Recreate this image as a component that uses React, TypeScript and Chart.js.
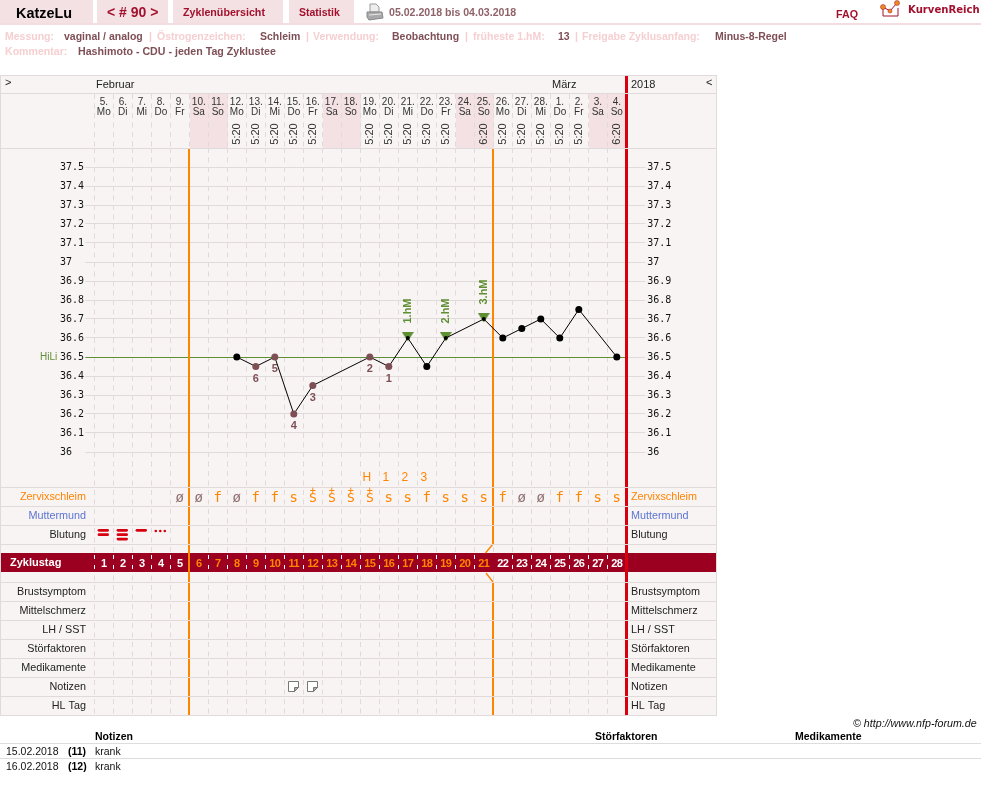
import React, { useEffect, useRef } from "react";
import { Chart, registerables } from "chart.js";

Chart.register(...registerables);

const dayNumbers = [5, 6, 7, 8, 9, 10, 11, 12, 13, 14, 15, 16, 17, 18, 19, 20, 21, 22, 23, 24, 25, 26, 27, 28, 1, 2, 3, 4];
const weekdays = ["Mo", "Di", "Mi", "Do", "Fr", "Sa", "So", "Mo", "Di", "Mi", "Do", "Fr", "Sa", "So", "Mo", "Di", "Mi", "Do", "Fr", "Sa", "So", "Mo", "Di", "Mi", "Do", "Fr", "Sa", "So"];
const times = [null, null, null, null, null, null, null, "5:20", "5:20", "5:20", "5:20", "5:20", null, null, "5:20", "5:20", "5:20", "5:20", "5:20", null, "6:20", "5:20", "5:20", "5:20", "5:20", "5:20", null, "6:20"];
const temperatures = [null, null, null, null, null, null, null, 36.5, 36.45, 36.5, 36.2, 36.35, null, null, 36.5, 36.45, 36.6, 36.45, 36.6, null, 36.7, 36.6, 36.65, 36.7, 36.6, 36.75, null, 36.5];
const excludedDays = [8, 9, 10, 11, 14, 15];
const excludedLabels = ["6", "5", "4", "3", "2", "1"];
const peakDays = [16, 18, 20];
const peakLabels = ["1.hM", "2.hM", "3.hM"];
const yTicks = [37.5, 37.4, 37.3, 37.2, 37.1, 37, 36.9, 36.8, 36.7, 36.6, 36.5, 36.4, 36.3, 36.2, 36.1, 36];
const coverLine = 36.5;
const mucus = ["", "", "", "", "ø", "ø", "f", "ø", "f", "f", "s", "S+", "S+", "S+", "S+", "s", "s", "f", "s", "s", "s", "f", "ø", "ø", "f", "f", "s", "s"];
const mucusPeak = ["H", "1", "2", "3"];
const mucusPeakDays = [14, 15, 16, 17];
const bleeding = [2, 3, 1, -1];
const cycleDays = [1, 2, 3, 4, 5, 6, 7, 8, 9, 10, 11, 12, 13, 14, 15, 16, 17, 18, 19, 20, 21, 22, 23, 24, 25, 26, 27, 28];
const fertileDays = [5, 20];
const noteDays = [10, 11];
const rowsTop = ["Zervixschleim", "Muttermund", "Blutung"];
const rowsBottom = ["Brustsymptom", "Mittelschmerz", "LH / SST", "Störfaktoren", "Medikamente", "Notizen", "HL Tag"];
const noteRows = [["15.02.2018", "(11)", "krank"], ["16.02.2018", "(12)", "krank"]];

const SANS = '"Liberation Sans", Arial, sans-serif';
const MONO = '"DejaVu Sans Mono", monospace';
const GRID = "#e0dbda";
const BG = "#f9f4f4";
const PINK = "#f3e1e3";
const ORANGE = "#ff8400";
const RED = "#d8000f";
const MAROON = "#9b0020";
const BROWN = "#7f4f56";
const GREEN = "#5f8f33";

function tableFurniture(chart: any) {
  const { ctx } = chart;
  ctx.save();
  ctx.fillStyle = BG;
  ctx.fillRect(1, 75, 715, 640);
  const x = chart.scales.x;
  ctx.fillStyle = PINK;
  weekdays.forEach((w, i) => {
    if (w === "Sa" || w === "So") {
      const a = Math.round(x.getPixelForValue(i - 0.5)) + 1;
      const b = Math.round(x.getPixelForValue(i + 0.5));
      ctx.fillRect(a, 94, b - a + 1, 54);
    }
  });
  ctx.restore();
}

function tableOverlay(chart: any) {
  const { ctx } = chart;
  const x = chart.scales.x;
  const text = (s: string, px: number, py: number, font: string, color: string, align: CanvasTextAlign = "center") => {
    ctx.font = font;
    ctx.fillStyle = color;
    ctx.textAlign = align;
    ctx.textBaseline = "middle";
    ctx.fillText(s, px, py);
  };
  ctx.save();
  // header dashes
  ctx.strokeStyle = GRID;
  ctx.lineWidth = 1;
  ctx.setLineDash([5, 4.5]);
  dayNumbers.forEach((_, i) => {
    const px = Math.floor(x.getPixelForValue(i - 0.5)) + 0.5;
    ctx.beginPath();
    ctx.moveTo(px, 94);
    ctx.lineTo(px, 148);
    ctx.stroke();
  });
  ctx.setLineDash([]);

  // cycle day band
  ctx.fillStyle = MAROON;
  ctx.fillRect(1, 553, 715, 19);
  ctx.fillStyle = "#fff";
  dayNumbers.forEach((_, i) => {
    const px = Math.floor(x.getPixelForValue(i - 0.5));
    if (i === fertileDays[0] || i === fertileDays[1] + 1) return;
    ctx.fillRect(px, 555, 1, 4);
    ctx.fillRect(px, 565, 1, 4);
  });

  // fertile window lines and end of cycle line
  const o1 = Math.round(x.getPixelForValue(fertileDays[0] - 0.5));
  const o2 = Math.round(x.getPixelForValue(fertileDays[1] + 0.5));
  ctx.fillStyle = ORANGE;
  ctx.fillRect(o1 - 1, 148, 2, 567);
  ctx.fillRect(o2 - 1, 148, 2, 396);
  ctx.fillRect(o2 - 1, 582, 2, 133);
  ctx.strokeStyle = ORANGE;
  ctx.lineWidth = 1.4;
  ctx.beginPath();
  ctx.moveTo(o2, 544);
  ctx.lineTo(o2 - 7.5, 553);
  ctx.moveTo(o2 - 7, 573);
  ctx.lineTo(o2, 582);
  ctx.stroke();
  const rx = Math.round(x.getPixelForValue(dayNumbers.length - 0.5));
  ctx.fillStyle = RED;
  ctx.fillRect(rx - 1, 75, 3, 640);

  // table borders and rows
  ctx.fillStyle = GRID;
  [75, 93, 148, 487, 506, 525, 544, 582, 601, 620, 639, 658, 677, 696, 715].forEach((y) => ctx.fillRect(0, y, 717, 1));
  ctx.fillRect(0, 75, 1, 641);
  ctx.fillRect(716, 75, 1, 641);

  // header row text
  text(">", 5, 83, `11px ${SANS}`, "#222", "left");
  text("Februar", 96, 85, `11px ${SANS}`, "#222", "left");
  text("März", 552, 85, `11px ${SANS}`, "#222", "left");
  text("2018", 631, 85, `11px ${SANS}`, "#222", "left");
  text("<", 706, 83, `11px ${SANS}`, "#222", "left");

  // measuring times
  times.forEach((t, i) => {
    if (!t) return;
    ctx.save();
    ctx.translate(x.getPixelForValue(i), 134);
    ctx.rotate(-Math.PI / 2);
    text(t, 0, 0, `11px ${SANS}`, "#333");
    ctx.restore();
  });

  // coverline caption
  const y = chart.scales.y;
  text("HiLi", 40, y.getPixelForValue(coverLine), `10px ${SANS}`, GREEN, "left");

  // excluded value numbers
  excludedDays.forEach((d, i) => {
    text(excludedLabels[i], x.getPixelForValue(d), y.getPixelForValue(temperatures[d] as number) + 12, `bold 11px ${SANS}`, BROWN);
  });
  // peak labels
  peakDays.forEach((d, i) => {
    ctx.save();
    ctx.translate(x.getPixelForValue(d), y.getPixelForValue(temperatures[d] as number) - 27);
    ctx.rotate(-Math.PI / 2);
    text(peakLabels[i], 0, 0, `bold 11px ${SANS}`, GREEN);
    ctx.restore();
  });

  // mucus row
  mucusPeak.forEach((m, i) => text(m, x.getPixelForValue(mucusPeakDays[i]) - 3, 478, `12px ${SANS}`, ORANGE));
  mucus.forEach((m, i) => {
    if (!m) return;
    const px = x.getPixelForValue(i);
    if (m === "S+") {
      text("S", px, 499, `13px ${MONO}`, ORANGE);
      text("+", px, 491, `10px ${MONO}`, ORANGE);
    } else if (m === "ø") {
      text(m, px, 498.5, `14px ${MONO}`, "#8d6f70");
    } else {
      text(m, px, 498.5, `14px ${MONO}`, ORANGE);
    }
  });

  // bleeding row
  ctx.strokeStyle = RED;
  ctx.fillStyle = RED;
  ctx.lineCap = "round";
  ctx.lineWidth = 2.8;
  bleeding.forEach((b, i) => {
    const px = x.getPixelForValue(i) - 0.5;
    if (b < 0) {
      [-4.5, 0, 4.5].forEach((d) => {
        ctx.beginPath();
        ctx.arc(px + d, 531, 1.3, 0, Math.PI * 2);
        ctx.fill();
      });
      return;
    }
    for (let k = 0; k < b; k++) {
      const by = 530.3 + k * 4.4;
      ctx.beginPath();
      ctx.moveTo(px - 4.3, by);
      ctx.lineTo(px + 4.3, by);
      ctx.stroke();
    }
  });
  ctx.lineCap = "butt";

  // row captions
  const leftColor = (r: string) => (r === "Zervixschleim" ? ORANGE : r === "Muttermund" ? "#5b74d0" : "#222");
  rowsTop.forEach((r, i) => {
    const py = 497 + i * 19;
    text(r, 86, py, `10.8px ${SANS}`, leftColor(r), "right");
    text(r, 631, py, `10.8px ${SANS}`, leftColor(r), "left");
  });
  rowsBottom.forEach((r, i) => {
    const py = 592 + i * 19;
    text(r, 86, py, `10.8px ${SANS}`, "#222", "right");
    text(r, 631, py, `10.8px ${SANS}`, "#222", "left");
  });
  text("Zyklustag", 10, 563, `bold 11px ${SANS}`, "#fff", "left");
  (ctx as any).letterSpacing = "-0.5px";
  cycleDays.forEach((d, i) => {
    const isFertile = i >= fertileDays[0] && i <= fertileDays[1];
    text(String(d), x.getPixelForValue(i), 563.5, `bold 11px ${SANS}`, isFertile ? ORANGE : "#fff");
  });
  (ctx as any).letterSpacing = "0px";

  // note icons
  noteDays.forEach((d) => {
    const px = Math.round(x.getPixelForValue(d)) - 6;
    ctx.strokeStyle = "#777";
    ctx.lineWidth = 1;
    ctx.fillStyle = "#fff";
    ctx.beginPath();
    ctx.moveTo(px + 0.5, 681.5);
    ctx.lineTo(px + 10.5, 681.5);
    ctx.lineTo(px + 10.5, 687.5);
    ctx.lineTo(px + 6.5, 691.5);
    ctx.lineTo(px + 0.5, 691.5);
    ctx.closePath();
    ctx.fill();
    ctx.stroke();
    ctx.fillStyle = "#aaa";
    ctx.beginPath();
    ctx.moveTo(px + 6.5, 691.5);
    ctx.lineTo(px + 6.5, 687.5);
    ctx.lineTo(px + 10.5, 687.5);
    ctx.closePath();
    ctx.fill();
    ctx.stroke();
  });
  ctx.restore();
}

function makeTriangle(): HTMLCanvasElement {
  const c = document.createElement("canvas");
  c.width = 12;
  c.height = 12;
  const g = c.getContext("2d")!;
  g.fillStyle = GREEN;
  g.beginPath();
  g.moveTo(0, 0);
  g.lineTo(12, 0);
  g.lineTo(6, 9.5);
  g.closePath();
  g.fill();
  return c;
}

function Txt(p: { x: number; y: number; s: string; size?: number; color?: string; bold?: boolean; italic?: boolean; family?: string }) {
  return (
    <span
      style={{
        position: "absolute",
        left: p.x,
        top: p.y - 8,
        lineHeight: "16px",
        whiteSpace: "nowrap",
        fontFamily: p.family || SANS,
        fontSize: p.size || 11,
        fontWeight: p.bold === false ? 400 : 700,
        fontStyle: p.italic ? "italic" : "normal",
        color: p.color || "#000",
      }}
    >
      {p.s}
    </span>
  );
}

const LBL = "#f6cfd1";
const VAL = "#7f4f56";
const DARKRED = "#a3102e";
const infoLine: [number, string, string][] = [
  [5, "Messung:", LBL], [64, "vaginal / analog", VAL], [149, "|", LBL], [157, "Östrogenzeichen:", LBL], [260, "Schleim", VAL], [306, "|", LBL],
  [313, "Verwendung:", LBL], [392, "Beobachtung", VAL], [465, "|", LBL], [473, "früheste 1.hM:", LBL], [558, "13", VAL], [575, "|", LBL],
  [582, "Freigabe Zyklusanfang:", LBL], [715, "Minus-8-Regel", VAL],
];
const tabs: [number, number][] = [[0, 93], [97, 71], [173, 110], [289, 65]];

export default function App() {
  const ref = useRef<HTMLCanvasElement>(null);
  useEffect(() => {
    const yMax = 37.6;
    const yMin = 37.6 - 567 / 190;
    const tri = makeTriangle();
    const chart = new Chart(ref.current!, {
      type: "line",
      data: {
        labels: dayNumbers.map((d, i) => [`${d}.`, weekdays[i]]),
        datasets: [
          {
            label: "Temperatur",
            data: temperatures,
            yAxisID: "y",
            spanGaps: true,
            borderColor: "#000",
            borderWidth: 1,
            tension: 0,
            pointRadius: temperatures.map((_, i) => (peakDays.includes(i) ? 2 : 3.5)),
            pointBorderWidth: 0,
            pointBackgroundColor: temperatures.map((_, i) => (excludedDays.includes(i) ? BROWN : "#000")),
          },
          {
            label: "Hochlage",
            data: temperatures.map((t, i) => (peakDays.includes(i) ? t : null)),
            yAxisID: "y",
            showLine: false,
            pointStyle: tri as any,
          },
        ],
      },
      options: {
        animation: false,
        responsive: false,
        events: [],
        layout: { padding: { left: 60, top: 93, right: 981 - 626.3 - 100, bottom: 80 } },
        plugins: {
          legend: { display: false },
          tooltip: { enabled: false },
        } as any,
        scales: {
          x: {
            type: "category",
            position: "top",
            offset: true,
            afterFit: (s: any) => { s.height = 55; },
            grid: { offset: true, color: GRID, lineWidth: 1, drawTicks: false },
            border: { display: false, dash: [5, 4.5] },
            ticks: {
              autoSkip: false,
              maxRotation: 0,
              padding: 31,
              color: "#333",
              font: { family: SANS, size: 10, lineHeight: 1 },
            },
          },
          y: {
            type: "linear",
            position: "left",
            min: yMin,
            max: yMax,
            afterFit: (s: any) => { s.width = 34.3; },
            afterBuildTicks: (s: any) => { s.ticks = yTicks.map((value) => ({ value })); },
            grid: {
              color: (c: any) => (c.tick && c.tick.value === coverLine ? GREEN : GRID),
              tickLength: 9,
              lineWidth: 1,
            },
            border: { display: false },
            ticks: {
              padding: 1,
              crossAlign: "far",
              color: "#111",
              font: { family: MONO, size: 10 },
              autoSkip: false,
              callback: (v: any) => String(v),
            },
          },
          y2: {
            type: "linear",
            position: "right",
            min: yMin,
            max: yMax,
            afterFit: (s: any) => { s.width = 100; },
            afterBuildTicks: (s: any) => { s.ticks = yTicks.map((value) => ({ value })); },
            grid: { drawOnChartArea: false, color: GRID, tickLength: 19, lineWidth: 1 },
            border: { display: false },
            ticks: {
              padding: 2,
              color: "#111",
              font: { family: MONO, size: 10 },
              autoSkip: false,
              callback: (v: any) => String(v),
            },
          },
        },
      },
      plugins: [
        { id: "tableFurniture", beforeDraw: tableFurniture },
        { id: "tableOverlay", beforeDatasetsDraw: tableOverlay },
      ],
    } as any);
    return () => chart.destroy();
  }, []);

  return (
    <div style={{ position: "absolute", left: 0, top: 0, width: 981, height: 795, background: "#fff", overflow: "hidden" }}>
      <canvas ref={ref} width={981} height={795} style={{ position: "absolute", left: 0, top: 0, width: 981, height: 795 }} />
      {tabs.map(([x, w]) => (
        <div key={x} style={{ position: "absolute", left: x, top: 0, width: w, height: 23, background: PINK }} />
      ))}
      <div style={{ position: "absolute", left: 0, top: 23, width: 981, height: 2, background: "#f3dde0" }} />
      <Txt x={16} y={13} s="KatzeLu" size={14.4} />
      <Txt x={107} y={12} s="< # 90 >" size={14} color={DARKRED} />
      <Txt x={183} y={12} s="Zyklenübersicht" size={10.7} color={DARKRED} />
      <Txt x={299} y={12} s="Statistik" size={10.5} color={DARKRED} />
      <svg style={{ position: "absolute", left: 366, top: 3 }} width="18" height="18" viewBox="0 0 18 18">
        <path d="M4 1 L10 1 L13 4 L13 9 L4 9 Z" fill="#eee" stroke="#999" />
        <path d="M1 9 L16 9 L17 15 L3 17 L1 14 Z" fill="#a9a9a9" stroke="#888" />
        <path d="M3 12 L15 11" stroke="#e8e8e8" />
      </svg>
      <Txt x={389} y={12} s="05.02.2018 bis 04.03.2018" size={10.6} color="#8f626a" />
      <Txt x={836} y={14} s="FAQ" size={10.7} color={DARKRED} />
      <svg style={{ position: "absolute", left: 880, top: 0 }} width="20" height="18" viewBox="0 0 20 18">
        <path d="M3 8 L3 16 L18 16 L18 8" fill="#fff" stroke="#a3102e" />
        <path d="M3 7 L10 11 L17 3" fill="none" stroke="#a3102e" />
        <circle cx="3" cy="7" r="2.5" fill="#f08a1c" stroke="#a3102e" strokeWidth="0.5" />
        <circle cx="10" cy="11" r="2" fill="#f08a1c" stroke="#a3102e" strokeWidth="0.5" />
        <circle cx="17" cy="3" r="2.5" fill="#f08a1c" stroke="#a3102e" strokeWidth="0.5" />
      </svg>
      <Txt x={908} y={10} s="KurvenReich" size={10.1} color={DARKRED} family='"DejaVu Sans", sans-serif' />
      {infoLine.map(([x, s, c]) => (
        <Txt key={x} x={x} y={36} s={s} size={10.5} color={c} />
      ))}
      <Txt x={5} y={51} s="Kommentar:" size={10.6} color={LBL} />
      <Txt x={78} y={51} s="Hashimoto - CDU - jeden Tag Zyklustee" size={10.65} color={VAL} />
      <Txt x={853} y={723} s="© http://www.nfp-forum.de" size={10.7} color="#111" bold={false} italic />
      <Txt x={95} y={736} s="Notizen" size={10.5} />
      <Txt x={595} y={736} s="Störfaktoren" size={10.5} />
      <Txt x={795} y={736} s="Medikamente" size={10.5} />
      <div style={{ position: "absolute", left: 0, top: 743, width: 981, height: 1, background: "#ddd" }} />
      <div style={{ position: "absolute", left: 0, top: 758, width: 981, height: 1, background: "#ddd" }} />
      {noteRows.map((r, i) => (
        <React.Fragment key={r[0]}>
          <Txt x={6} y={751 + i * 15} s={r[0]} size={10.5} color="#111" bold={false} />
          <Txt x={68} y={751 + i * 15} s={r[1]} size={10.5} />
          <Txt x={95} y={751 + i * 15} s={r[2]} size={10.5} color="#111" bold={false} />
        </React.Fragment>
      ))}
    </div>
  );
}
